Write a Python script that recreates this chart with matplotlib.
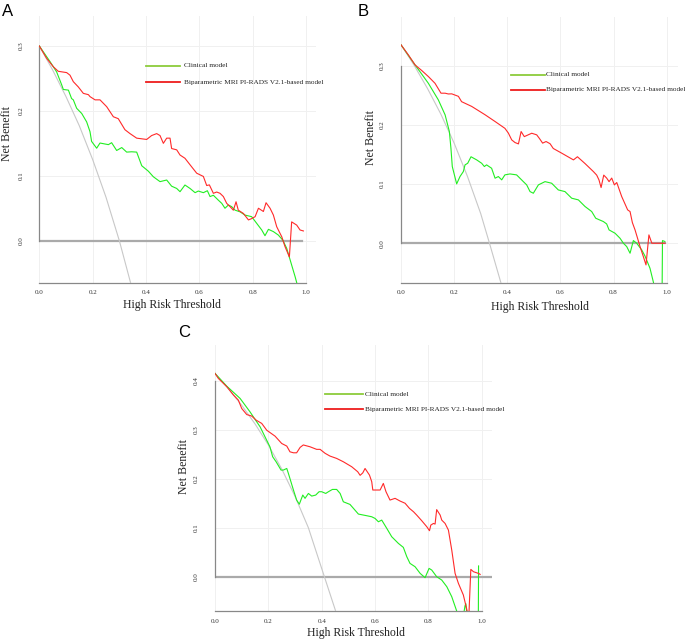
import matplotlib
matplotlib.use("Agg")
from matplotlib import pyplot as plt

plt.rcParams['font.family'] = ['Liberation Serif', 'DejaVu Serif']

# ---- panel A ----
a_thr_bp = [0, 0.0275, 0.0525, 0.071, 0.1025, 0.115, 0.1275, 0.146, 0.165, 0.184, 0.19, 0.209,
            0.2275, 0.2525, 0.2775, 0.296, 0.321, 0.34, 0.365, 0.4025, 0.421, 0.44, 0.4525, 0.465,
            0.4775, 0.49, 0.496, 0.515, 0.5275, 0.546, 0.565, 0.59, 0.615, 0.6275, 0.6375, 0.6525,
            0.665, 0.6775, 0.69, 0.7025, 0.715, 0.7275, 0.7375, 0.746, 0.765, 0.784, 0.796, 0.809,
            0.8215, 0.84, 0.85, 0.865, 0.8775, 0.89, 0.909, 0.921, 0.9375, 0.946, 0.965, 0.9775, 0.99]
a_nb_bp = [0.3, 0.281, 0.268, 0.261, 0.259, 0.255, 0.245, 0.237, 0.227, 0.225, 0.222, 0.217,
           0.217, 0.2065, 0.191, 0.188, 0.171, 0.165, 0.158, 0.156, 0.162, 0.165, 0.162, 0.150,
           0.158, 0.158, 0.142, 0.14, 0.132, 0.127, 0.117, 0.104, 0.099, 0.085, 0.086, 0.073,
           0.075, 0.073, 0.068, 0.0575, 0.0525, 0.047, 0.060, 0.047, 0.042, 0.032, 0.034, 0.037,
           0.050, 0.045, 0.0585, 0.050, 0.0395, 0.0215, 0.006, -0.009, -0.025, 0.029, 0.024, 0.0165, 0.015]
a_thr_clin = [0, 0.04, 0.065, 0.084, 0.09, 0.109, 0.121, 0.1275, 0.14, 0.159, 0.1775, 0.19, 0.196,
              0.215, 0.2275, 0.246, 0.259, 0.271, 0.29, 0.309, 0.3275, 0.346, 0.365, 0.384, 0.409,
              0.4275, 0.4525, 0.4775, 0.496, 0.515, 0.5275, 0.546, 0.565, 0.584, 0.596, 0.615, 0.63,
              0.64, 0.6525, 0.671, 0.684, 0.696, 0.709, 0.721, 0.734, 0.7525, 0.771, 0.796, 0.815,
              0.834, 0.846, 0.859, 0.8775, 0.896, 0.9125, 0.9275, 0.946, 0.959, 0.965, 0.975]
a_nb_clin = [0.3, 0.276, 0.260, 0.240, 0.233, 0.232, 0.219, 0.217, 0.204, 0.196, 0.183, 0.168, 0.153,
             0.1425, 0.1505, 0.149, 0.148, 0.151, 0.139, 0.1435, 0.1365, 0.137, 0.1365, 0.1155, 0.107,
             0.0985, 0.091, 0.0935, 0.084, 0.0805, 0.0755, 0.0858, 0.0805, 0.074, 0.0765, 0.074, 0.077,
             0.068, 0.070, 0.0625, 0.0575, 0.050, 0.055, 0.0525, 0.047, 0.0445, 0.0395, 0.037, 0.0267,
             0.0164, 0.0077, 0.0175, 0.014, 0.0087, 0.001, -0.0118, -0.0375, -0.0555, -0.0647, -0.09]
a_thr_all = [0, 0.05, 0.1, 0.15, 0.2, 0.25, 0.3, 0.35]
a_nb_all = [0.3, 0.263, 0.222, 0.177, 0.125, 0.067, 0.0, -0.077]

# ---- panel B ----
b_thr_bp = [0, 0.0276, 0.053, 0.078, 0.103, 0.128, 0.1505, 0.166, 0.178, 0.191, 0.216, 0.228, 0.266,
            0.316, 0.354, 0.391, 0.404, 0.4166, 0.429, 0.442, 0.452, 0.464, 0.492, 0.5107, 0.5207,
            0.533, 0.546, 0.561, 0.573, 0.605, 0.649, 0.664, 0.6926, 0.724, 0.7365, 0.745, 0.753,
            0.763, 0.774, 0.783, 0.793, 0.803, 0.812, 0.8306, 0.853, 0.862, 0.8707, 0.8808, 0.8996,
            0.912, 0.922, 0.933, 0.944, 0.9937]
b_nb_bp = [0.335, 0.318, 0.301, 0.2916, 0.2814, 0.270, 0.2533, 0.2533, 0.252, 0.2522, 0.248, 0.239, 0.231,
           0.217, 0.2055, 0.194, 0.186, 0.1745, 0.170, 0.1677, 0.1886, 0.180, 0.1857, 0.183, 0.177,
           0.169, 0.1717, 0.168, 0.160, 0.152, 0.1407, 0.146, 0.1345, 0.121, 0.115, 0.107, 0.094,
           0.115, 0.110, 0.104, 0.110, 0.0985, 0.1025, 0.0788, 0.0563, 0.0535, 0.0349, 0.0225, -0.0056,
           -0.0225, -0.0366, 0.0141, 0.0, 0.0]
b_thr_clin = [0, 0.053, 0.103, 0.1405, 0.166, 0.182, 0.188, 0.193, 0.2095, 0.222, 0.2346, 0.241, 0.251,
              0.2635, 0.2848, 0.3036, 0.3137, 0.322, 0.341, 0.354, 0.3664, 0.379, 0.391, 0.41, 0.435,
              0.4605, 0.473, 0.4856, 0.498, 0.517, 0.542, 0.567, 0.592, 0.617, 0.6424, 0.6675, 0.6926,
              0.7177, 0.7328, 0.7616, 0.774, 0.783, 0.8055, 0.8243, 0.837, 0.8494, 0.862, 0.8745, 0.887,
              0.906, 0.918, 0.937, 0.95, 0.965, 0.982, 0.984, 0.993]
b_nb_clin = [0.335, 0.301, 0.270, 0.242, 0.2167, 0.1886, 0.160, 0.1295, 0.1002, 0.1126, 0.121, 0.1323, 0.135,
             0.146, 0.1407, 0.135, 0.1295, 0.1323, 0.1266, 0.1098, 0.1126, 0.107, 0.1154, 0.117, 0.1154,
             0.104, 0.0985, 0.0872, 0.0844, 0.0985, 0.104, 0.1013, 0.090, 0.0872, 0.076, 0.0732, 0.062,
             0.0535, 0.0422, 0.0366, 0.0326, 0.0225, 0.0169, 0.0084, 0.0, -0.0056, -0.0169, 0.0045, 0.0,
             -0.0113, -0.0214, -0.0422, -0.066, -0.12, -0.12, 0.0045, 0.003]
b_thr_all = [0, 0.05, 0.1, 0.15, 0.2, 0.25, 0.3, 0.333, 0.38]
b_nb_all = [0.335, 0.300, 0.261, 0.218, 0.169, 0.113, 0.050, 0.0, -0.073]

# ---- panel C ----
c_thr_bp = [0, 0.0125, 0.044, 0.069, 0.0875, 0.1, 0.119, 0.1375, 0.154, 0.175, 0.194, 0.225, 0.25,
            0.269, 0.281, 0.294, 0.306, 0.319, 0.331, 0.356, 0.381, 0.394, 0.4125, 0.431, 0.456, 0.481,
            0.5125, 0.535, 0.544, 0.554, 0.5625, 0.579, 0.5875, 0.5915, 0.604, 0.619, 0.631, 0.641,
            0.656, 0.675, 0.694, 0.7125, 0.729, 0.744, 0.756, 0.775, 0.794, 0.804, 0.809, 0.819, 0.825,
            0.831, 0.844, 0.85, 0.8625, 0.875, 0.8875, 0.9, 0.9125, 0.931, 0.9475, 0.952, 0.959, 0.969,
            0.9875, 0.994]
c_nb_bp = [0.415, 0.4048, 0.388, 0.371, 0.3605, 0.3435, 0.331, 0.328, 0.3197, 0.313, 0.299, 0.287, 0.272,
           0.2667, 0.255, 0.253, 0.253, 0.264, 0.269, 0.2653, 0.260, 0.260, 0.252, 0.2463, 0.2415, 0.2347,
           0.2245, 0.2143, 0.207, 0.212, 0.221, 0.2075, 0.194, 0.177, 0.177, 0.177, 0.1905, 0.1735,
           0.1565, 0.160, 0.1544, 0.150, 0.1395, 0.1327, 0.1259, 0.1143, 0.102, 0.0939, 0.1054, 0.1088, 0.1075,
           0.137, 0.1259, 0.1156, 0.1088, 0.0952, 0.0544, 0.0068, -0.0136, -0.0374, -0.075, -0.075, 0.015, 0.0102,
           0.0068, 0.0048]
c_thr_clin = [0, 0.044, 0.094, 0.131, 0.169, 0.206, 0.216, 0.229, 0.2475, 0.256, 0.269, 0.275, 0.294,
              0.306, 0.316, 0.329, 0.3375, 0.35, 0.3625, 0.3775, 0.39, 0.4, 0.415, 0.425, 0.44, 0.456,
              0.469, 0.481, 0.506, 0.519, 0.5375, 0.569, 0.5875, 0.6, 0.6125, 0.625, 0.644, 0.6625,
              0.675, 0.6875, 0.706, 0.719, 0.731, 0.75, 0.769, 0.7875, 0.8025, 0.8125, 0.831, 0.85,
              0.869, 0.8875, 0.906, 0.925, 0.937, 0.94, 0.945, 0.975, 0.987, 0.988]
c_nb_clin = [0.415, 0.389, 0.364, 0.3367, 0.306, 0.265, 0.245, 0.2347, 0.2177, 0.2177, 0.221, 0.211, 0.177,
             0.1565, 0.148, 0.1667, 0.160, 0.170, 0.1646, 0.1667, 0.1735, 0.1735, 0.170, 0.1735, 0.1782, 0.1782,
             0.170, 0.153, 0.1476, 0.1395, 0.1279, 0.1245, 0.1224, 0.119, 0.1122, 0.1156, 0.0986, 0.0816,
             0.0748, 0.068, 0.0599, 0.0408, 0.0272, 0.0204, 0.0068, -0.002, 0.017, 0.0136, 0.0, -0.0068,
             -0.0204, -0.0408, -0.07, -0.10, -0.06, -0.055, -0.08, -0.1, -0.1, 0.022]
c_thr_all = [0, 0.05, 0.1, 0.15, 0.2, 0.25, 0.3, 0.35, 0.41, 0.46]
c_nb_all = [0.415, 0.384, 0.350, 0.312, 0.269, 0.220, 0.164, 0.100, 0.0, -0.083]

labels = ['Clinical model', 'Biparametric MRI PI-RADS V2.1-based model']

green = '#22ee22'
red = '#ff2a2a'

fig = plt.figure(figsize=(6.85, 6.40), dpi=100)

panels = [
    dict(rect=[0.0574, 0.5583, 0.404, 0.4172], ylim=(-0.0647, 0.3467), xmax=1.0375,
         yticks=[0.0, 0.1, 0.2, 0.3], zero_end=0.985,
         x=(a_thr_clin, a_thr_bp, a_thr_all), y=(a_nb_clin, a_nb_bp, a_nb_all),
         leg=(0.3856, 0.5085, 0.522, 0.8127, 0.7506), ylab=(-0.095, 0.557), xlab=(0.481, -0.084),
         letter='A', letter_xy=(2, 4)),
    dict(rect=[0.5854, 0.5583, 0.4044, 0.4152], ylim=(-0.0666, 0.382), xmax=1.0425,
         yticks=[0.0, 0.1, 0.2, 0.3], zero_end=0.995,
         x=(b_thr_clin, b_thr_bp, b_thr_all), y=(b_nb_clin, b_nb_bp, b_nb_all),
         leg=(0.396, 0.52, 0.523, 0.7817, 0.7253), ylab=(-0.088, 0.546), xlab=(0.502, -0.09),
         letter='B', letter_xy=(358, 4)),
    dict(rect=[0.3139, 0.0453, 0.404, 0.4156], ylim=(-0.07, 0.473), xmax=1.0375,
         yticks=[0.0, 0.1, 0.2, 0.3, 0.4], zero_end=1.0375,
         x=(c_thr_clin, c_thr_bp, c_thr_all), y=(c_nb_clin, c_nb_bp, c_nb_all),
         leg=(0.3975, 0.534, 0.5416, 0.8147, 0.7594), ylab=(-0.09, 0.545), xlab=(0.509, -0.083),
         letter='C', letter_xy=(178, 325)),
]

for p in panels:
    ax = fig.add_axes(p['rect'])
    ax.set_xlim(0, p['xmax'])
    ax.set_ylim(*p['ylim'])
    xt = [0.0, 0.2, 0.4, 0.6, 0.8, 1.0]
    ax.set_xticks(xt)
    ax.set_yticks(p['yticks'])
    ax.set_xticklabels(['%.1f' % v for v in xt], fontsize=5)
    ax.set_yticklabels(['%.1f' % v for v in p['yticks']], fontsize=5, rotation=90, va='center')
    ax.tick_params(axis='x', length=0, pad=5.5, colors='#333333')
    ax.tick_params(axis='y', length=0, pad=11.5, colors='#333333')
    ax.grid(True, color='#f0f0f0', lw=0.7)
    ax.set_axisbelow(True)
    for s in ['top', 'right']:
        ax.spines[s].set_visible(False)
    for s in ['left', 'bottom']:
        ax.spines[s].set_color('#888888')
        ax.spines[s].set_linewidth(0.9)
    ax.spines['left'].set_bounds(0, p['yticks'][-1])
    ax.spines['bottom'].set_bounds(0, 1.0)

    xc, xb, xa = p['x']
    yc, yb, ya = p['y']
    ax.plot([0, p['zero_end']], [0, 0], color='#aaaaaa', lw=1.6, zorder=2)
    ax.plot(xa, ya, color='#c8c8c8', lw=0.8, zorder=3)
    ax.plot(xc, yc, color=green, lw=0.8, zorder=4)
    ax.plot(xb, yb, color=red, lw=0.8, zorder=5)

    x0, x1, xtxt, yg, yr = p['leg']
    ax.plot([x0, x1], [yg, yg], transform=ax.transAxes, color='#8ccc3c', lw=1.3, clip_on=False)
    ax.plot([x0, x1], [yr, yr], transform=ax.transAxes, color='#ee1c1c', lw=1.3, clip_on=False)
    ax.text(xtxt, yg, labels[0], transform=ax.transAxes, fontsize=5.25, va='center', ha='left',
            color='#222222')
    ax.text(xtxt, yr, labels[1], transform=ax.transAxes, fontsize=5.25, va='center', ha='left',
            color='#222222')

    ax.set_ylabel('Net Benefit', fontsize=8.5, color='#222222')
    ax.yaxis.set_label_coords(*p['ylab'])
    ax.set_xlabel('High Risk Threshold', fontsize=8.5, color='#222222', va='center')
    ax.xaxis.set_label_coords(*p['xlab'])

    lx, ly = p['letter_xy']
    fig.text(lx / 685, 1 - ly / 640, p['letter'], fontsize=12, family='Liberation Sans',
             ha='left', va='top')

fig.savefig('out.png', dpi=100)
